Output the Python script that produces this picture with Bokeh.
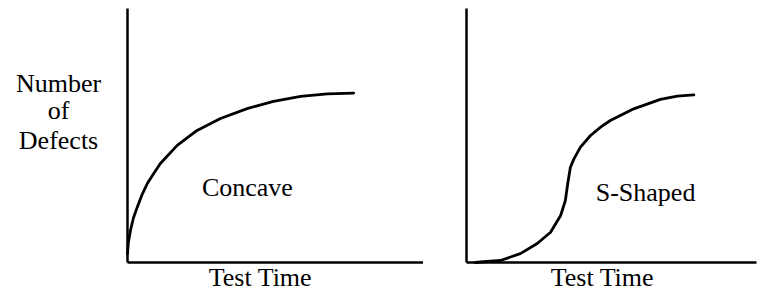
from bokeh.plotting import figure
from bokeh.layouts import row
from bokeh.models import Range1d, Label, FixedTicker, LinearAxis
from bokeh.embed import file_html
from bokeh.resources import INLINE

# ---- data ----
concave_time = [0.00, 0.03, 0.10, 0.20, 0.33, 0.48, 0.67, 0.88, 1.11, 1.68, 2.35, 3.14, 4.04, 4.93, 5.85, 6.75, 7.64]
concave_defects = [0.35, 0.80, 1.26, 1.75, 2.18, 2.64, 3.11, 3.49, 3.90, 4.61, 5.20, 5.67, 6.06, 6.34, 6.54, 6.64, 6.67]

s_time = [0.30, 0.47, 1.15, 1.82, 2.39, 2.84, 3.18, 3.34, 3.42, 3.51, 3.63, 3.85, 4.19, 4.53, 4.86, 5.65, 6.55, 7.12, 7.68]
s_defects = [0.00, 0.02, 0.08, 0.35, 0.75, 1.19, 1.85, 2.44, 3.11, 3.75, 4.08, 4.54, 5.00, 5.33, 5.59, 6.05, 6.42, 6.55, 6.60]

y_title = ["Number", "of", "Defects"]
x_title = "Test Time"
curve_names = ["Concave", "S-Shaped"]

FONT = "Liberation Serif"
FS = "26px"
PX_X = 29.6   # pixels per time unit
PX_Y = 25.4   # pixels per defect unit
H = 294
AXIS_Y_PX = 262   # pixel row of the time axis
TOP_PX = 8        # pixel row of the top of the defect axis
TXT_SHIFT = 0.40  # baseline correction for labels


def make_panel(width, origin_px, axis_end_px, xs, ys):
    x0 = -origin_px / PX_X
    x1 = (width - origin_px) / PX_X
    y0 = -(H - AXIS_Y_PX) / PX_Y
    y1 = AXIS_Y_PX / PX_Y
    p = figure(width=width, height=H, output_backend="svg", toolbar_location=None,
               x_range=Range1d(x0, x1), y_range=Range1d(y0, y1),
               x_axis_location=None, y_axis_location=None, min_border=0)
    p.outline_line_color = None
    p.grid.visible = False
    p.background_fill_color = "white"
    p.border_fill_color = "white"
    xa = LinearAxis(fixed_location=0, bounds=(0, (axis_end_px - origin_px) / PX_X))
    ya = LinearAxis(fixed_location=0, bounds=(0, (AXIS_Y_PX - TOP_PX) / PX_Y))
    for ax in (xa, ya):
        ax.ticker = FixedTicker(ticks=[])
        ax.major_tick_line_color = None
        ax.minor_tick_line_color = None
        ax.major_tick_out = 0
        ax.major_tick_in = 0
        ax.major_label_text_font_size = "0px"
        ax.axis_line_width = 2.5
        ax.axis_line_color = "black"
    p.add_layout(xa, "below")
    p.add_layout(ya, "left")
    p.line(xs, ys, line_width=2.8, line_color="black", line_join="round", line_cap="round")
    return p


def label(p, x, y, txt):
    p.add_layout(Label(x=x, y=y + TXT_SHIFT, text=txt, text_align="center", text_baseline="alphabetic",
                       text_font=FONT, text_font_size=FS, text_color="black"))


p1 = make_panel(423, 127, 423, concave_time, concave_defects)
p2 = make_panel(334, 43, 333, s_time, s_defects)

# y title (three lines, left of the first panel)
for txt, yb in zip(y_title, [6.65, 5.59, 4.41]):
    label(p1, -2.33, yb, txt)

# x titles
label(p1, 4.49, -0.98, x_title)
label(p2, 4.59, -0.98, x_title)

# curve names
label(p1, 4.05, 2.56, curve_names[0])
label(p2, 6.05, 2.36, curve_names[1])

layout = row(p1, p2, spacing=0)
open("out.html", "w").write(file_html(layout, INLINE))
